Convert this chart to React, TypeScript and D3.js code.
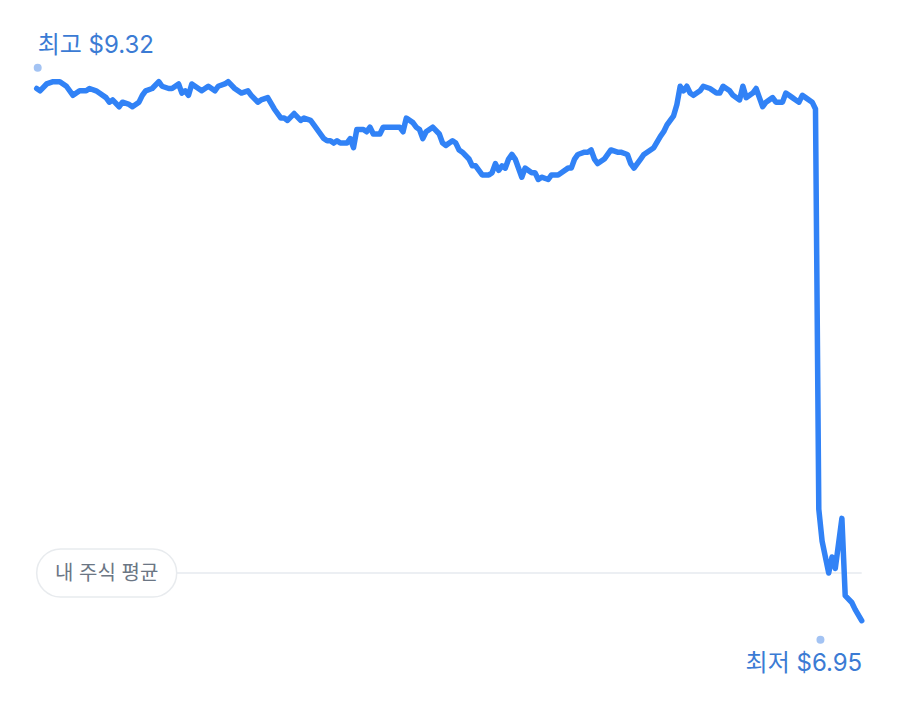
import React from "react";
import * as d3 from "d3";

// trading day index (0 = first day shown) and closing price in USD
const tradingDays = [
  0, 1, 3, 5, 7, 8, 9, 11, 13, 15,
  16, 18, 19, 21, 22, 23, 25, 26, 28, 29,
  31, 32, 33, 35, 37, 38, 40, 41, 43, 44,
  45, 46, 47, 49, 50, 52, 53, 54, 55, 57,
  58, 60, 61, 62, 64, 65, 67, 68, 70, 72,
  74, 75, 76, 78, 80, 81, 83, 84, 87, 88,
  89, 90, 91, 92, 94, 95, 96, 97, 99, 100,
  101, 102, 104, 105, 107, 109, 110, 111, 112, 114,
  115, 116, 117, 118, 119, 120, 122, 123, 124, 126,
  127, 128, 129, 131, 132, 133, 134, 135, 137, 138,
  139, 140, 141, 142, 143, 144, 145, 147, 148, 150,
  151, 152, 153, 155, 156, 158, 159, 161, 162, 163,
  164, 166, 167, 168, 169, 170, 172, 174, 176, 177,
  179, 180, 181, 183, 184, 185, 187, 189, 190, 191,
  193, 194, 195, 196, 197, 198, 199, 201, 202, 204,
  206, 207, 208, 210, 211, 213, 214, 215, 217, 218,
  219, 220, 221, 223, 224, 226, 227, 229, 230, 231,
  232, 233, 235, 236, 237, 238, 240, 241, 242, 244,
  245, 247, 248, 250,
];

const closePrices = [
  9.29, 9.28, 9.31, 9.32, 9.32, 9.31, 9.30, 9.26, 9.28, 9.28,
  9.29, 9.28, 9.27, 9.25, 9.23, 9.24, 9.21, 9.23, 9.22, 9.21,
  9.23, 9.26, 9.28, 9.29, 9.32, 9.30, 9.29, 9.29, 9.31, 9.27,
  9.28, 9.26, 9.31, 9.29, 9.28, 9.30, 9.29, 9.28, 9.30, 9.31,
  9.32, 9.29, 9.28, 9.27, 9.28, 9.26, 9.23, 9.24, 9.25, 9.20,
  9.16, 9.16, 9.15, 9.18, 9.15, 9.16, 9.15, 9.13, 9.07, 9.06,
  9.06, 9.05, 9.06, 9.05, 9.05, 9.07, 9.03, 9.11, 9.11, 9.10,
  9.12, 9.09, 9.09, 9.12, 9.12, 9.12, 9.12, 9.10, 9.16, 9.14,
  9.12, 9.11, 9.07, 9.10, 9.11, 9.12, 9.09, 9.05, 9.04, 9.06,
  9.05, 9.02, 9.01, 8.98, 8.95, 8.95, 8.93, 8.91, 8.91, 8.92,
  8.96, 8.93, 8.95, 8.94, 8.98, 9.00, 8.98, 8.90, 8.94, 8.92,
  8.92, 8.89, 8.90, 8.89, 8.91, 8.91, 8.92, 8.94, 8.94, 8.98,
  9.00, 9.01, 9.01, 9.02, 8.98, 8.96, 8.98, 9.02, 9.01, 9.01,
  9.00, 8.96, 8.94, 8.98, 9.00, 9.01, 9.03, 9.08, 9.10, 9.13,
  9.17, 9.22, 9.30, 9.28, 9.30, 9.27, 9.26, 9.28, 9.30, 9.29,
  9.27, 9.27, 9.30, 9.28, 9.26, 9.24, 9.30, 9.25, 9.27, 9.29,
  9.25, 9.21, 9.23, 9.25, 9.23, 9.23, 9.27, 9.25, 9.24, 9.23,
  9.26, 9.25, 9.23, 9.20, 7.44, 7.30, 7.16, 7.23, 7.18, 7.40,
  7.06, 7.03, 7.00, 6.95,
];

const highPrice = 9.32;
const lowPrice = 6.95;
const highDay = 0;
const lowDay = 237.5;
const myAveragePrice = 7.16;

const highLabel = "최고 $9.32";
const lowLabel = "최저 $6.95";
const averageLabel = "내 주식 평균";

const WIDTH = 900;
const HEIGHT = 726;
const margin = { top: 81.7, right: 38.3, bottom: 105.3, left: 36.7 };

const LINE_BLUE = "#3182f6";
const LABEL_BLUE = "#3b7bd4";
const DOT_BLUE = "#a3c3f3";
const FONT = "Inter, 'Noto Sans CJK KR', sans-serif";

export default function App() {
  const data = tradingDays.map((d, i) => ({ day: d, price: closePrices[i] }));

  const x = d3
    .scaleLinear()
    .domain([0, d3.max(tradingDays) ?? 250])
    .range([margin.left, WIDTH - margin.right]);

  const y = d3
    .scaleLinear()
    .domain([lowPrice, highPrice])
    .range([HEIGHT - margin.bottom, margin.top]);

  const line = d3
    .line<{ day: number; price: number }>()
    .x((d) => x(d.day))
    .y((d) => y(d.price))
    .curve(d3.curveLinear);

  const avgY = y(myAveragePrice);
  const pillW = 140;
  const pillH = 48;
  const pillX = margin.left;
  const lineEnd = WIDTH - margin.right;

  return (
    <svg
      width={WIDTH}
      height={HEIGHT}
      style={{ position: "absolute", left: 0, top: 0, background: "#fff" }}
      fontFamily={FONT}
    >
      {/* my average price */}
      <line
        x1={pillX + pillW}
        x2={lineEnd}
        y1={avgY}
        y2={avgY}
        stroke="#eceff3"
        strokeWidth={2}
      />
      <rect
        x={pillX}
        y={avgY - pillH / 2}
        width={pillW}
        height={pillH}
        rx={pillH / 2}
        fill="#fff"
        stroke="#e8ebee"
        strokeWidth={1.5}
      />
      <text
        x={pillX + pillW / 2}
        y={avgY}
        dy="0.36em"
        textAnchor="middle"
        fontSize={20}
        fill="#6b7684"
      >
        {averageLabel}
      </text>

      {/* price line */}
      <path
        d={line(data) ?? ""}
        fill="none"
        stroke={LINE_BLUE}
        strokeWidth={5.5}
        strokeLinejoin="round"
        strokeLinecap="round"
      />

      {/* high marker */}
      <circle cx={x(highDay) + 1} cy={y(highPrice) - 14} r={4} fill={DOT_BLUE} />
      <text x={x(highDay) + 1} y={y(highPrice) - 29} fontSize={24} fill={LABEL_BLUE}>
        {highLabel}
      </text>

      {/* low marker */}
      <circle cx={x(lowDay)} cy={y(lowPrice) + 19} r={4} fill={DOT_BLUE} />
      <text
        x={lineEnd + 0.5}
        y={y(lowPrice) + 50}
        textAnchor="end"
        fontSize={24}
        fill={LABEL_BLUE}
      >
        {lowLabel}
      </text>
    </svg>
  );
}
